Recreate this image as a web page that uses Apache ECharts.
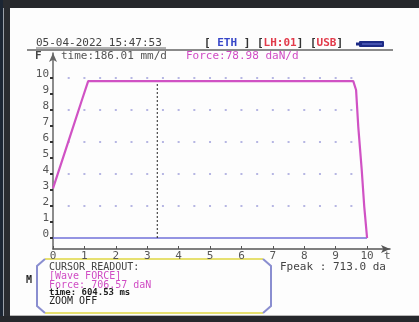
<!DOCTYPE html>
<html>
<head>
<meta charset="utf-8">
<script src="https://cdn.jsdelivr.net/npm/echarts@6/dist/echarts.min.js"></script>
<style>
  html, body { margin: 0; padding: 0; background: #fdfdfd; }
  #chart { width: 419px; height: 322px; }
</style>
</head>
<body>
<div id="chart"></div>
<script>
  // force curve (t in 0..10 scale, F in 0..10 scale)
  var forceT = [0, 0.3, 0.6, 0.9, 1.12, 2, 3, 4, 5, 6, 7, 8, 9, 9.56, 9.65, 9.72, 9.83, 9.91, 10.0];
  var forceF = [3.1, 4.9, 6.7, 8.5, 9.8, 9.8, 9.8, 9.8, 9.8, 9.8, 9.8, 9.8, 9.8, 9.8, 9.25, 6.95, 4.25, 1.96, 0];
  // blue zero line
  var baseT = [0, 10];
  var baseF = [0, 0];
  // cursor position
  var cursorT = 3.32;
  // dotted grid
  var dotT = [0.5, 1, 1.5, 2, 2.5, 3, 3.5, 4, 4.5, 5, 5.5, 6, 6.5, 7, 7.5, 8, 8.5, 9, 9.5];
  var dotF = [2, 4, 6, 8, 10];
  // tick labels
  var xTicks = [0, 1, 2, 3, 4, 5, 6, 7, 8, 9, 10];
  var yTicks = [0, 1, 2, 3, 4, 5, 6, 7, 8, 9, 10];

  var mono = 'DejaVu Sans Mono';

  function pairs(xs, ys) {
    var out = [];
    for (var i = 0; i < xs.length; i++) out.push([xs[i], ys[i]]);
    return out;
  }
  var dots = [];
  dotF.forEach(function (f) {
    dotT.forEach(function (t) { dots.push([t, f]); });
  });

  var chart = echarts.init(document.getElementById('chart'));
  chart.setOption({
    animation: false,
    backgroundColor: '#fdfdfd',
    grid: { left: 53, right: 29, top: 53, bottom: 73 },
    xAxis: {
      type: 'value',
      min: 0,
      max: 10.73,
      axisLine: { onZero: false, lineStyle: { color: '#555', width: 1.5 }, symbol: ['none', 'arrow'], symbolSize: [6, 9] },
      axisTick: { show: true, inside: true, length: 3, customValues: xTicks, lineStyle: { color: '#555' } },
      axisLabel: { customValues: xTicks, margin: 2, color: '#555', fontFamily: mono, fontSize: 11 },
      splitLine: { show: false }
    },
    yAxis: {
      type: 'value',
      min: -0.6875,
      max: 11.5625,
      axisLine: { show: true, onZero: false, lineStyle: { color: '#666', width: 1.5 }, symbol: ['none', 'arrow'], symbolSize: [6, 9] },
      axisTick: { show: true, length: 3, customValues: yTicks, lineStyle: { color: '#333', width: 2 } },
      axisLabel: { customValues: yTicks, margin: 4, verticalAlign: 'bottom', lineHeight: 8, color: '#555', fontFamily: mono, fontSize: 11 },
      splitLine: { show: false }
    },
    series: [
      {
        type: 'scatter',
        data: dots,
        symbol: 'rect',
        symbolSize: 2,
        itemStyle: { color: '#a4a4dc' },
        silent: true
      },
      {
        type: 'line',
        data: pairs(baseT, baseF),
        symbol: 'none',
        lineStyle: { color: '#7070d8', width: 1.5 }
      },
      {
        type: 'line',
        data: [[cursorT, 0], [cursorT, 10]],
        symbol: 'none',
        lineStyle: { color: '#222', width: 1, type: [2, 2] }
      },
      {
        type: 'line',
        data: pairs(forceT, forceF),
        symbol: 'none',
        lineStyle: { color: '#d052c4', width: 2.2 }
      }
    ],
    graphic: [
      // device frame
      { type: 'rect', shape: { x: 0, y: 0, width: 419, height: 8 }, style: { fill: '#26282c' } },
      { type: 'rect', shape: { x: 0, y: 0, width: 10, height: 322 }, style: { fill: '#2a2c30' } },
      { type: 'rect', shape: { x: 0, y: 0, width: 3, height: 322 }, style: { fill: '#1c2634' } },
      { type: 'rect', shape: { x: 3, y: 8, width: 1, height: 314 }, style: { fill: '#9aa0a8' } },
      { type: 'rect', shape: { x: 0, y: 316, width: 419, height: 6 }, style: { fill: '#26282c' } },
      { type: 'rect', shape: { x: 10, y: 315, width: 409, height: 1 }, style: { fill: '#b8b8b8' } },
      // header
      { type: 'line', shape: { x1: 27, y1: 50, x2: 393, y2: 50 }, style: { stroke: '#8a8a8a', lineWidth: 2 } },
      { type: 'text', x: 36, y: 43, style: { text: '05-04-2022 15:47:53', fill: '#444', font: '11px ' + mono, verticalAlign: 'middle' } },
      { type: 'line', shape: { x1: 36, y1: 48, x2: 166, y2: 48 }, style: { stroke: '#666', lineWidth: 1 } },
      {
        type: 'text', x: 204, y: 43,
        style: {
          text: '{k|[ }{b|ETH}{k| ] [}{r|LH:01}{k|] [}{r|USB}{k|]}',
          verticalAlign: 'middle',
          font: 'bold 11px ' + mono,
          rich: {
            k: { fill: '#333', font: 'bold 11px ' + mono },
            b: { fill: '#3646c8', font: 'bold 11px ' + mono },
            r: { fill: '#e23a4a', font: 'bold 11px ' + mono }
          }
        }
      },
      { type: 'rect', shape: { x: 359, y: 41, width: 25, height: 6, r: 1 }, style: { fill: '#1d2b86' } },
      { type: 'rect', shape: { x: 356, y: 42.5, width: 3, height: 3 }, style: { fill: '#1d2b86' } },
      { type: 'line', shape: { x1: 362, y1: 44, x2: 382, y2: 44 }, style: { stroke: '#6c7ad8', lineWidth: 1 } },
      { type: 'text', x: 35, y: 56, style: { text: 'F', fill: '#444', font: 'bold 11px ' + mono, verticalAlign: 'middle' } },
      { type: 'text', x: 61, y: 56, style: { text: 'time:186.01 mm/d', fill: '#555', font: '11px ' + mono, verticalAlign: 'middle' } },
      { type: 'text', x: 186, y: 56, style: { text: 'Force:78.98 daN/d', fill: '#d04cc4', font: '11px ' + mono, verticalAlign: 'middle' } },
      { type: 'text', x: 384, y: 256, style: { text: 't', fill: '#555', font: '11px ' + mono, verticalAlign: 'middle' } },
      // readout box
      { type: 'line', shape: { x1: 45, y1: 259, x2: 263, y2: 259 }, style: { stroke: '#e6e070', lineWidth: 2 } },
      { type: 'line', shape: { x1: 45, y1: 313, x2: 263, y2: 313 }, style: { stroke: '#e6e070', lineWidth: 2 } },
      { type: 'polyline', shape: { points: [[45, 259], [37, 266], [37, 306], [45, 313]] }, style: { stroke: '#8a8ed0', lineWidth: 2, fill: null } },
      { type: 'polyline', shape: { points: [[263, 259], [271, 266], [271, 306], [263, 313]] }, style: { stroke: '#8a8ed0', lineWidth: 2, fill: null } },
      { type: 'text', x: 26, y: 280, style: { text: 'M', fill: '#222', font: 'bold 10px ' + mono, verticalAlign: 'middle' } },
      { type: 'text', x: 49, y: 267, style: { text: 'CURSOR READOUT:', fill: '#444', font: '10px ' + mono, verticalAlign: 'middle' } },
      { type: 'text', x: 49, y: 276, style: { text: '[Wave FORCE]', fill: '#d04cc4', font: '10px ' + mono, verticalAlign: 'middle' } },
      { type: 'text', x: 49, y: 285, style: { text: 'Force: 706.57 daN', fill: '#d04cc4', font: '10px ' + mono, verticalAlign: 'middle' } },
      { type: 'text', x: 49, y: 293, style: { text: 'time: 604.53 ms', fill: '#222', font: 'bold 9px ' + mono, verticalAlign: 'middle' } },
      { type: 'text', x: 49, y: 301, style: { text: 'ZOOM OFF', fill: '#222', font: '10px ' + mono, verticalAlign: 'middle' } },
      { type: 'text', x: 280, y: 267, style: { text: 'Fpeak : 713.0 da', fill: '#444', font: '11px ' + mono, verticalAlign: 'middle' } }
    ]
  });
</script>
</body>
</html>
